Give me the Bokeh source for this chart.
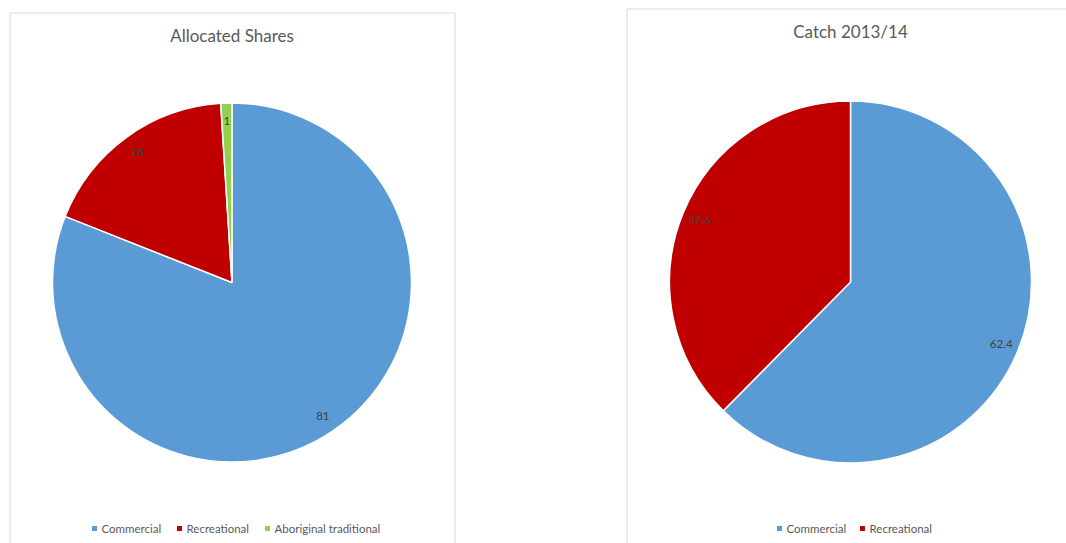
import numpy as np
from bokeh.plotting import figure
from bokeh.models import Range1d, ColumnDataSource
from bokeh.core.properties import value
from bokeh.embed import file_html
from bokeh.resources import INLINE

# ---- data ----
left_title = "Allocated Shares"
left_cats = ["Commercial", "Recreational", "Aboriginal traditional"]
left_vals = [81, 18, 1]

right_title = "Catch 2013/14"
right_cats = ["Commercial", "Recreational"]
right_vals = [62.4, 37.6]

COLORS = {"Commercial": "#5B9BD5", "Recreational": "#C00000",
          "Aboriginal traditional": "#92D050"}

# ---- layout (page pixel coordinates) ----
W, H = 1066, 543
OX, OY = 0, 0
FONT = "Lato"


def dx(X):
    return X - OX


def dy(Y):
    return (OY + H) - Y


p = figure(width=W, height=H, x_range=Range1d(0, W), y_range=Range1d(0, H),
           output_backend="svg", toolbar_location=None, min_border=0,
           x_axis_type=None, y_axis_type=None)
p.grid.visible = False
p.outline_line_color = None
p.background_fill_color = "white"
p.border_fill_color = "white"

# chart boxes
p.quad(left=[dx(9.5)], right=[dx(454.5)], top=[dy(12.5)], bottom=[-40],
       fill_color=None, line_color="#D9D9D9", line_width=1)
p.quad(left=[dx(626.5)], right=[W + 40], top=[dy(8.5)], bottom=[-40],
       fill_color=None, line_color="#D9D9D9", line_width=1)


def pie(title, cats, vals, cx, cy, r, title_y, legend_sq_x):
    v = np.array(vals, dtype=float)
    frac = v / v.sum()
    ends = np.cumsum(frac)
    starts = ends - frac
    start_ang = np.pi / 2 - starts * 2 * np.pi
    end_ang = np.pi / 2 - ends * 2 * np.pi
    mid = np.pi / 2 - (starts + ends) * np.pi
    n = len(cats)
    src = ColumnDataSource(dict(
        x=[dx(cx)] * n, y=[dy(cy)] * n,
        start=start_ang, end=end_ang,
        color=[COLORS[c] for c in cats],
    ))
    p.wedge(x="x", y="y", radius=r, start_angle="start", end_angle="end",
            direction="clock", fill_color="color", line_color="white",
            line_width=1.5, source=src)
    lx = dx(cx) + 0.9 * r * np.cos(mid)
    ly = dy(cy) + 0.9 * r * np.sin(mid)
    p.text(x=lx, y=ly, text=[f"{x:g}" for x in vals],
           text_font=value(FONT), text_font_size="11.5px",
           text_color="#404040", text_align="center",
           text_baseline="middle")
    p.text(x=[dx(cx)], y=[dy(title_y)], text=[title],
           text_font=value(FONT), text_font_size="17px",
           text_color="#595959", text_align="center",
           text_baseline="middle")
    # legend
    ly0 = dy(528)
    p.rect(x=[dx(s) for s in legend_sq_x], y=[ly0] * n, width=5, height=5,
           fill_color=[COLORS[c] for c in cats], line_color=None)
    p.text(x=[dx(s + 7) for s in legend_sq_x], y=[ly0] * n, text=cats,
           text_font=value(FONT), text_font_size="11.5px",
           text_color="#595959", text_align="left",
           text_baseline="middle")


pie(left_title, left_cats, left_vals, 231.5, 282, 179.5, 35, [94, 179, 267])
pie(right_title, right_cats, right_vals, 850, 281.5, 181, 31, [779, 862])

open("out.html", "w").write(file_html(p, INLINE))
